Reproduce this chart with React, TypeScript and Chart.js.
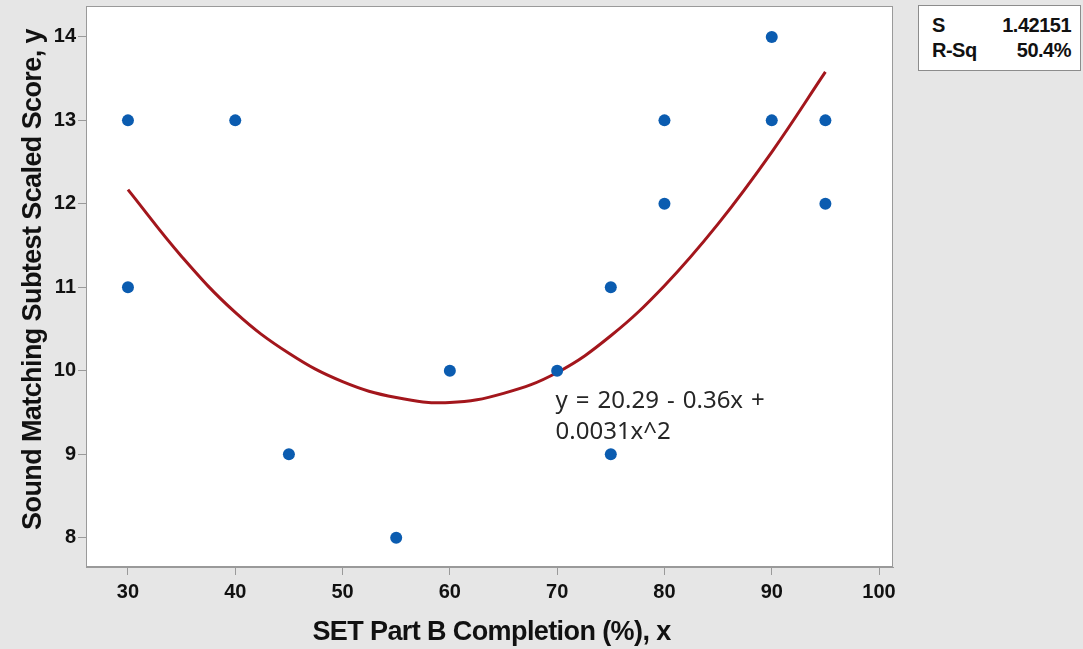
import React, { useEffect, useRef } from "react";
import { Chart, registerables } from "chart.js";

Chart.register(...registerables);

// Observed data
const completionX = [30, 30, 40, 45, 55, 60, 70, 75, 75, 80, 80, 90, 90, 95, 95];
const scoreY = [13, 11, 13, 9, 8, 10, 10, 11, 9, 13, 12, 14, 13, 13, 12];

// Fitted quadratic curve
const fitX = [30, 35, 40, 45, 50, 55, 60, 65, 70, 75, 80, 85, 90, 95];
const fitY = [12.17, 11.37, 10.7, 10.21, 9.87, 9.68, 9.62, 9.73, 9.98, 10.42, 11.02, 11.76, 12.62, 13.58];

// Ticks
const xTicks = [30, 40, 50, 60, 70, 80, 90, 100];
const yTicks = [8, 9, 10, 11, 12, 13, 14];

const xTitle = "SET Part B Completion (%), x";
const yTitle = "Sound Matching Subtest Scaled Score, y";
const equationLines = ["y = 20.29 - 0.36x +", "0.0031x^2"];
const statLabels = ["S", "R-Sq"];
const statValues = ["1.42151", "50.4%"];

const BG = "#e6e6e6";
const AXIS_GRAY = "#9a9a9a";
const TEXT = "#111111";
const SANS = '"Liberation Sans", Arial, sans-serif';

export default function App() {
  const canvasRef = useRef<HTMLCanvasElement | null>(null);

  useEffect(() => {
    const canvas = canvasRef.current;
    if (!canvas) return;

    const decorPlugin = {
      id: "decorPlugin",
      beforeDraw(chart: any) {
        const { ctx, chartArea } = chart;
        ctx.save();
        ctx.fillStyle = BG;
        ctx.fillRect(0, 0, chart.width, chart.height);
        ctx.fillStyle = "#ffffff";
        ctx.fillRect(chartArea.left, chartArea.top, chartArea.right - chartArea.left, chartArea.bottom - chartArea.top);
        ctx.restore();
      },
      afterDraw(chart: any) {
        const { ctx, chartArea, scales } = chart;
        ctx.save();
        ctx.strokeStyle = AXIS_GRAY;
        ctx.lineWidth = 1;
        ctx.strokeRect(chartArea.left + 0.5, chartArea.top + 0.5, chartArea.right - chartArea.left - 1, chartArea.bottom - chartArea.top - 1);

        // axis titles
        ctx.fillStyle = TEXT;
        ctx.font = `bold 27px ${SANS}`;
        (ctx as any).letterSpacing = "-0.6px";
        ctx.textAlign = "center";
        ctx.textBaseline = "alphabetic";
        ctx.fillText(xTitle, (chartArea.left + chartArea.right) / 2 + 2, 640);
        ctx.save();
        ctx.translate(41, (chartArea.top + chartArea.bottom) / 2 - 7);
        ctx.rotate(-Math.PI / 2);
        ctx.fillText(yTitle, 0, 0);
        ctx.restore();
        (ctx as any).letterSpacing = "0px";

        // equation annotation
        const px = scales.x.getPixelForValue(69.85);
        const py = scales.y.getPixelForValue(9.56);
        ctx.fillStyle = "#262626";
        ctx.font = '24px "Noto Sans"';
        ctx.textAlign = "left";
        ctx.textBaseline = "alphabetic";
        const spaceW = ctx.measureText(" ").width + 1.8;
        equationLines.forEach((line, i) => {
          let cx = px;
          line.split(" ").forEach((tok) => {
            ctx.fillText(tok, cx, py + i * 31);
            cx += ctx.measureText(tok).width + spaceW;
          });
        });
        ctx.restore();
      },
    };

    const tickFont = { family: SANS, size: 20, weight: "bold" as const };

    const chart = new Chart(canvas, {
      type: "scatter",
      data: {
        datasets: [
          {
            label: "Data",
            data: completionX.map((x, i) => ({ x, y: scoreY[i] })),
            backgroundColor: "#0b5cb0",
            borderColor: "#0b5cb0",
            pointRadius: 6,
            pointBorderWidth: 0,
            order: 1,
          },
          {
            label: "Fit",
            data: fitX.map((x, i) => ({ x, y: fitY[i] })),
            showLine: true,
            borderColor: "#a3161c",
            backgroundColor: "#a3161c",
            borderWidth: 3,
            pointRadius: 0,
            tension: 0.4,
            order: 2,
          },
        ],
      },
      options: {
        responsive: false,
        animation: false,
        devicePixelRatio: 1,
        layout: { padding: { top: 5, right: 190, bottom: 0, left: 0 } },
        plugins: {
          legend: { display: false },
          tooltip: { enabled: false },
        },
        scales: {
          x: {
            type: "linear",
            min: 26.09,
            max: 101.3,
            afterBuildTicks: (scale: any) => {
              scale.ticks = xTicks.map((v) => ({ value: v }));
            },
            afterFit: (scale: any) => {
              scale.height = 82;
              scale.paddingLeft = 0;
              scale.paddingRight = 0;
            },
            grid: { display: true, drawOnChartArea: false, drawTicks: true, tickLength: 8, color: AXIS_GRAY },
            border: { display: true, color: AXIS_GRAY },
            ticks: { color: TEXT, font: tickFont, padding: 5, autoSkip: false, maxRotation: 0 },
            title: { display: false },
          },
          y: {
            type: "linear",
            min: 7.65,
            max: 14.37,
            afterBuildTicks: (scale: any) => {
              scale.ticks = yTicks.map((v) => ({ value: v }));
            },
            afterFit: (scale: any) => {
              scale.width = 86;
              scale.paddingTop = 0;
              scale.paddingBottom = 0;
            },
            grid: { display: true, drawOnChartArea: false, drawTicks: true, tickLength: 8, color: AXIS_GRAY },
            border: { display: true, color: AXIS_GRAY },
            ticks: { color: TEXT, font: tickFont, padding: 2, autoSkip: false },
            title: { display: false },
          },
        },
      },
      plugins: [decorPlugin],
    } as any);

    return () => {
      chart.destroy();
    };
  }, []);

  return (
    <div
      style={{
        position: "fixed",
        left: 0,
        top: 0,
        width: 1083,
        height: 649,
        background: BG,
        overflow: "hidden",
      }}
    >
      <canvas ref={canvasRef} width={1083} height={649} style={{ display: "block", width: 1083, height: 649 }} />
      <div
        style={{
          position: "absolute",
          left: 918,
          top: 5,
          width: 163,
          height: 66,
          background: "#ffffff",
          border: "1px solid #8c8c8c",
          boxSizing: "border-box",
          padding: "7px 9px 0 13px",
          fontFamily: SANS,
          fontWeight: "bold",
          fontSize: 20,
          letterSpacing: "-0.5px",
          color: TEXT,
          lineHeight: "25px",
        }}
      >
        {statLabels.map((lab, i) => (
          <div key={lab} style={{ display: "flex", justifyContent: "space-between" }}>
            <span>{lab}</span>
            <span>{statValues[i]}</span>
          </div>
        ))}
      </div>
    </div>
  );
}
